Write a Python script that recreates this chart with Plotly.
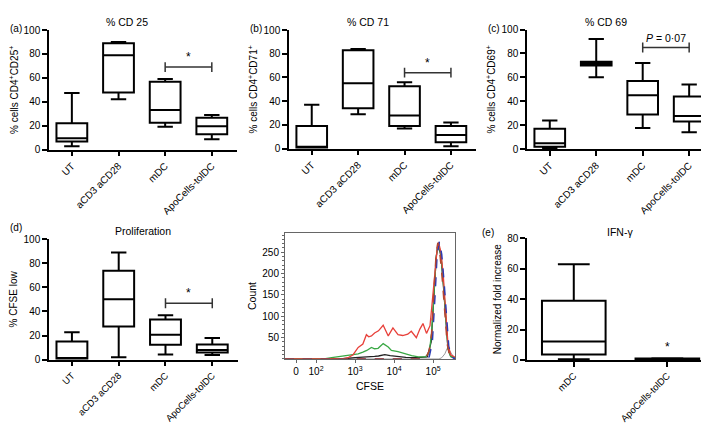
import plotly.graph_objects as go

W, H = 709, 423
FONT = "Liberation Sans, Arial, sans-serif"

CATEGORIES = ["UT", "aCD3 aCD28", "mDC", "ApoCells-tolDC"]
IFN_CATEGORIES = ["mDC", "ApoCells-tolDC"]

# box statistics (lower whisker, q1, median, q3, upper whisker)
CD25 = dict(low=[2.7, 42, 19, 8.6], q1=[6.8, 47.8, 22.4, 12.7], med=[9.5, 79, 33, 19.5],
            q3=[22, 89, 56.8, 26.5], high=[47.3, 90, 59, 29])
CD71 = dict(low=[0, 29, 17, 2], q1=[0.5, 34, 19, 5.4], med=[1.5, 55, 28, 11.5],
            q3=[19, 83, 52.5, 19], high=[37, 84, 56, 22])
CD69 = dict(low=[0.8, 60, 17.7, 14], q1=[2, 70, 29, 23], med=[4.8, 71.5, 45, 27.6],
            q3=[17, 73, 57, 44], high=[24, 92, 72, 54])
CFSE_LOW = dict(low=[0, 2, 4.3, 3.8], q1=[0.5, 27.4, 12.4, 6], med=[1, 50, 20.7, 8],
                q3=[15, 73.7, 33.3, 12.6], high=[22.8, 89, 36.8, 18])
IFN = dict(low=[0.4, 0.3], q1=[3.6, 0.5], med=[12.2, 0.8], q3=[39, 1.0], high=[63, 1.1])

# significance bar height and label, mDC vs ApoCells-tolDC
SIG_LEVEL = [69, 64, 85, 46.8]
SIG_TEXT = ["*", "*", "<i>P</i> = 0·07", "*"]

# CFSE histogram, x in decades of the biexponential axis
RED_X = [1.2, 2.5, 2.7, 2.82, 2.95, 3.08, 3.2, 3.29, 3.35, 3.42, 3.5, 3.6, 3.72, 3.85, 3.97,
         4.1, 4.22, 4.35, 4.44, 4.57, 4.66, 4.74, 4.83, 4.92, 4.98, 5.04, 5.1, 5.14, 5.2,
         5.26, 5.32, 5.38, 5.45, 5.56]
RED_Y = [0, 0, 1, 3, 10, 27, 35, 57, 52, 54, 61, 66, 79, 54, 73, 57, 55, 58, 65, 50, 70, 83,
         60, 78, 140, 200, 255, 273, 250, 195, 110, 35, 10, 4]
GREEN_X = [1.2, 2.2, 2.4, 2.56, 2.82, 3.08, 3.2, 3.3, 3.42, 3.5, 3.59, 3.72, 3.85, 3.93, 4.1,
           4.27, 4.45, 4.62, 4.8, 4.9, 4.96, 5.02, 5.08, 5.13, 5.2, 5.26, 5.32, 5.38, 5.45, 5.56]
GREEN_Y = [0, 0, 3, 5, 8, 12, 16, 20, 27, 24, 25, 36, 28, 20, 17, 12, 8, 5, 5, 15, 60, 150,
           240, 272, 245, 180, 95, 25, 6, 2]
BLACK_X = [1.2, 2.6, 3.0, 3.3, 3.5, 3.6, 3.76, 3.9, 4.1, 4.3, 4.6, 4.85, 4.95, 5.02, 5.08,
           5.13, 5.2, 5.26, 5.32, 5.38, 5.45, 5.56]
BLACK_Y = [0, 0, 3, 4, 6, 7, 10, 8, 6, 4, 3, 5, 40, 150, 240, 270, 240, 175, 90, 25, 6, 2]
BLUE_X = [1.2, 4.8, 4.9, 4.98, 5.05, 5.1, 5.16, 5.22, 5.28, 5.34, 5.4, 5.46, 5.56]
BLUE_Y = [0, 0, 5, 40, 150, 240, 275, 245, 180, 95, 30, 6, 0]
DARKRED_X = [1.2, 4.8, 4.9, 4.96, 5.02, 5.08, 5.12, 5.18, 5.24, 5.3, 5.36, 5.42, 5.56]
DARKRED_Y = [0, 0, 20, 60, 160, 250, 272, 240, 180, 100, 35, 8, 0]
GRAY_X = [1.2, 5.15, 5.22, 5.3, 5.36, 5.42, 5.5, 5.56]
GRAY_Y = [0, 0, 3, 12, 25, 20, 8, 3]

CFSE_TICKS = [1.49, 2, 3, 4, 5]
CFSE_LABELS = ["0", "10<sup>2</sup>", "10<sup>3</sup>", "10<sup>4</sup>", "10<sup>5</sup>"]


def dom_x(left, right):
    return [left / W, right / W]


def dom_y(top, bottom):
    return [1 - bottom / H, 1 - top / H]


fig = go.Figure()

axis_common = dict(showline=True, linecolor="black", linewidth=1.5, showgrid=False,
                   zeroline=False, ticks="outside", ticklen=5, tickwidth=1.5,
                   tickcolor="black", tickfont=dict(size=10, color="black"))

# (label, stats, ytitle, title, x px, y px, x range, categories, box width, y max, x font)
panels = [
    ("(a)", CD25, "% cells CD4<sup>+</sup>CD25<sup>+</sup>", "% CD 25",
     (41, 229), (16.5, 139.5), [-0.49, 3.54], CATEGORIES, 0.66, 100, 10),
    ("(b)", CD71, "% cells CD4<sup>+</sup>CD71<sup>+</sup>", "% CD 71",
     (281, 468), (16.5, 138.5), [-0.49, 3.54], CATEGORIES, 0.66, 100, 10),
    ("(c)", CD69, "% cells CD4<sup>+</sup>CD69<sup>+</sup>", "% CD 69",
     (519, 703), (16, 139), [-0.49, 3.47], CATEGORIES, 0.66, 100, 10),
    ("(d)", CFSE_LOW, "% CFSE low", "Proliferation",
     (41, 230), (231.7, 355.7), [-0.49, 3.55], CATEGORIES, 0.66, 100, 9.5),
    ("(e)", IFN, "Normalized fold increase", "IFN-γ",
     (519, 708), (231, 356), [-0.5, 1.52], IFN_CATEGORIES, 0.68, 80, 9.5),
]
axis_ids = [1, 2, 3, 4, 6]
title_px = [(119, 8), (360, 8), (598, 8), (135, 223), (612, 224)]
letter_px = [(8, 15), (248, 15), (486, 15), (8, 220), (480, 225)]

layout_axes = {}
annotations = []
for k, (letter, st, ytitle, title, xpx, ypx, xr, cats, bw, ymax, xfs) in zip(axis_ids, panels):
    sx = "" if k == 1 else str(k)
    fig.add_trace(go.Box(
        x=cats, q1=st["q1"], median=st["med"], q3=st["q3"],
        lowerfence=st["low"], upperfence=st["high"],
        xaxis="x" + sx, yaxis="y" + sx, width=bw, whiskerwidth=0.5,
        fillcolor="rgba(255,255,255,0)", line=dict(color="black", width=2),
        boxpoints=False, showlegend=False,
    ))
    layout_axes["xaxis" + sx] = dict(axis_common, domain=dom_x(*xpx), anchor="y" + sx,
                                     type="category", categoryarray=cats, range=xr,
                                     tickangle=-45, tickfont=dict(size=xfs, color="black"))
    layout_axes["yaxis" + sx] = dict(axis_common, domain=dom_y(*ypx), anchor="x" + sx,
                                     range=[0, ymax], tickvals=list(range(0, ymax + 1, 20)),
                                     title=dict(text=ytitle, font=dict(size=10), standoff=4))
    i = axis_ids.index(k)
    tx, ty = title_px[i]
    annotations.append(dict(text=title, x=tx / W, y=1 - ty / H, xref="paper", yref="paper",
                            showarrow=False, font=dict(size=10.5), xanchor="center",
                            yanchor="middle"))
    lx, ly = letter_px[i]
    annotations.append(dict(text=letter, x=lx / W, y=1 - ly / H, xref="paper", yref="paper",
                            showarrow=False, font=dict(size=10), xanchor="center",
                            yanchor="middle"))

# significance bars mDC vs ApoCells-tolDC
for k, lvl, txt in zip([1, 2, 3, 4], SIG_LEVEL, SIG_TEXT):
    sx = "" if k == 1 else str(k)
    fig.add_trace(go.Scatter(
        x=["mDC", "ApoCells-tolDC"], y=[lvl, lvl], mode="lines+markers",
        xaxis="x" + sx, yaxis="y" + sx, showlegend=False, hoverinfo="skip",
        line=dict(color="#333", width=1.5),
        marker=dict(symbol="line-ns", size=7, line=dict(color="#333", width=1.5)),
    ))
    annotations.append(dict(text=txt, x=2.5, y=lvl, xref="x" + sx, yref="y" + sx,
                            showarrow=False, yanchor="bottom", yshift=1,
                            font=dict(size=10.5 if txt != "*" else 12)))

# IFN-gamma significance star
annotations.append(dict(text="*", x=1, y=IFN["high"][1], xref="x6", yref="y6",
                        showarrow=False, yanchor="bottom", yshift=2, font=dict(size=12)))

# CFSE histogram
curves = [
    (GRAY_X, GRAY_Y, "#9a9a9a", "solid", 1),
    (BLACK_X, BLACK_Y, "#222222", "solid", 1.3),
    (GREEN_X, GREEN_Y, "#3aa845", "solid", 1.3),
    (RED_X, RED_Y, "#e8403a", "solid", 1.3),
    (BLUE_X, BLUE_Y, "#2b3bb5", "dash", 1.5),
    (DARKRED_X, DARKRED_Y, "#b5452f", "dash", 1.5),
]
for cx, cy, col, dash, lw in curves:
    fig.add_trace(go.Scatter(x=cx, y=cy, mode="lines", xaxis="x5", yaxis="y5",
                             line=dict(color=col, width=lw, dash=dash),
                             showlegend=False, hoverinfo="skip"))

hist_axis = dict(showline=True, linecolor="#666", linewidth=1, mirror=True, showgrid=False,
                 zeroline=False, ticks="outside", ticklen=3, tickcolor="#666",
                 tickfont=dict(size=10, color="black"))
layout_axes["xaxis5"] = dict(hist_axis, domain=dom_x(277, 447), anchor="y5",
                             range=[1.205, 5.56], tickvals=CFSE_TICKS, ticktext=CFSE_LABELS,
                             title=dict(text="CFSE", font=dict(size=10.5), standoff=6))
layout_axes["yaxis5"] = dict(hist_axis, domain=dom_y(225, 355.5), anchor="x5",
                             range=[-1, 296], tickvals=[50, 100, 150, 200, 250],
                             minor=dict(ticks="outside", dtick=10, ticklen=2, tickcolor="#666"),
                             title=dict(text="Count", font=dict(size=10.5), standoff=3))

fig.update_layout(
    width=W, height=H,
    margin=dict(l=0, r=0, t=0, b=0),
    paper_bgcolor="white", plot_bgcolor="rgba(0,0,0,0)",
    font=dict(family=FONT, color="black", size=10),
    annotations=annotations,
    **layout_axes,
)

fig.write_html("out.html")
